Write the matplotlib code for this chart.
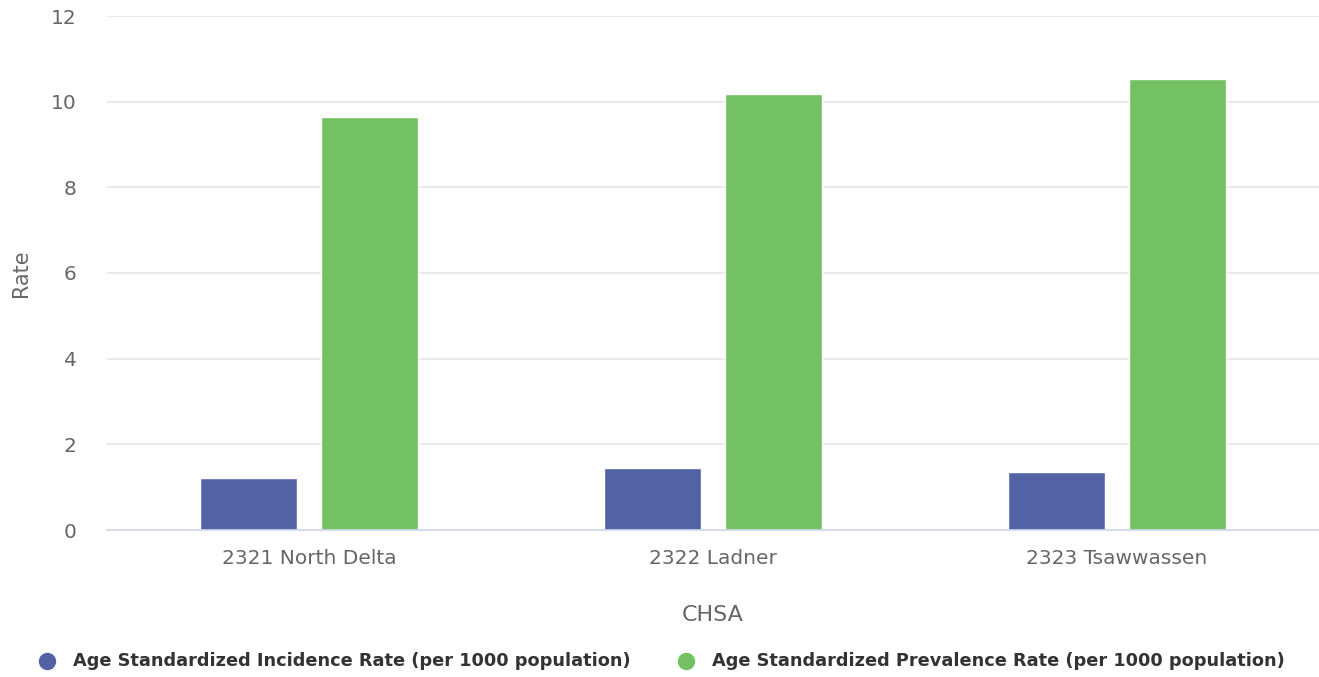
import numpy as np
import matplotlib
matplotlib.use("Agg")
import matplotlib.pyplot as plt
from matplotlib.lines import Line2D

categories = ["2321 North Delta", "2322 Ladner", "2323 Tsawwassen"]
incidence = [1.21, 1.45, 1.35]
prevalence = [9.64, 10.17, 10.52]
series_names = ["Age Standardized Incidence Rate (per 1000 population)",
                "Age Standardized Prevalence Rate (per 1000 population)"]
colors = ["#5263a5", "#73c163"]

plt.rcParams['font.family'] = ['DejaVu Sans']

W, H = 1319, 677
fig = plt.figure(figsize=(W / 100, H / 100), dpi=100)
ax = fig.add_axes([107 / W, 147 / H, 1212 / W, 514 / H])

x = np.arange(len(categories))
w = 0.24
ax.bar(x - 0.15, incidence, w, color=colors[0], edgecolor="white", linewidth=1, zorder=3)
ax.bar(x + 0.15, prevalence, w, color=colors[1], edgecolor="white", linewidth=1, zorder=3)

ax.set_xlim(-0.5, len(categories) - 0.5)
ax.set_ylim(0, 12)
ax.set_yticks(range(0, 13, 2))
ax.set_xticks(x)
ax.set_xticklabels(categories)
ax.grid(axis="y", color="#e6e6e6", linewidth=1.2, zorder=0)
for s in ["top", "right", "left"]:
    ax.spines[s].set_visible(False)
ax.spines["bottom"].set_color("#ccd6eb")
ax.spines["bottom"].set_linewidth(1.2)
ax.spines["bottom"].set_zorder(4)
ax.tick_params(axis="y", length=0, pad=22, labelsize=14.5, labelcolor="#666666")
ax.tick_params(axis="x", length=0, pad=14, labelsize=14.5, labelcolor="#666666")

ax.set_xlabel("CHSA", fontsize=16, color="#666666", labelpad=26)
ax.set_ylabel("Rate", fontsize=15, color="#666666", labelpad=14)

# legend drawn manually to match the original's spacing
leg_y = 1 - 661 / H
for cx, tx, c, name in [(47, 73, colors[0], series_names[0]),
                        (686, 712, colors[1], series_names[1])]:
    fig.add_artist(Line2D([cx / W], [leg_y], marker="o", markersize=11.5,
                          color=c, transform=fig.transFigure))
    fig.text(tx / W, leg_y, name, ha="left", va="center", fontsize=12.8,
             color="#333333", fontweight="bold")

fig.savefig("out.png", dpi=100)
